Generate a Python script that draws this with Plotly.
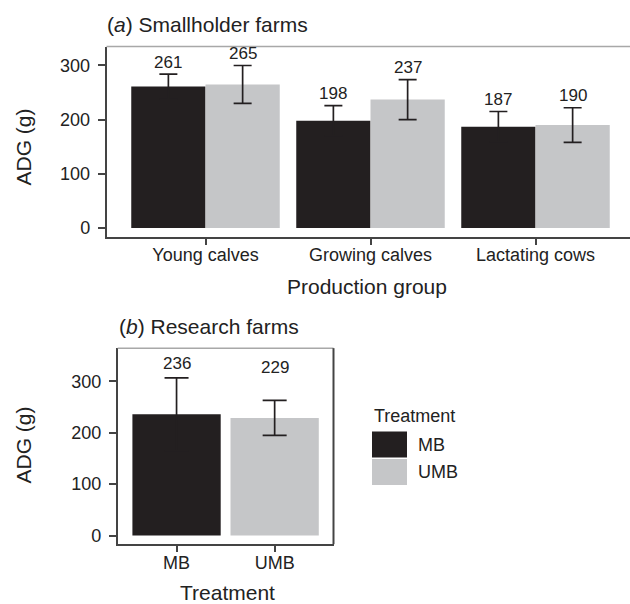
import plotly.graph_objects as go

# ---- data -------------------------------------------------------------
groups = ["Young calves", "Growing calves", "Lactating cows"]
treatments = ["MB", "UMB"]
colors = {"MB": "#231f20", "UMB": "#c5c6c8"}

# panel (a): smallholder farms, mean ADG (g) and error half-width
adg_a = {"MB": [261, 198, 187], "UMB": [265, 237, 190]}
err_a = {"MB": [23, 28, 28], "UMB": [35, 37, 32]}

# panel (b): research farms
adg_b = [236, 229]
err_b = [71, 34]

W, H = 630, 604
FONT = "Liberation Sans, Arial, Helvetica, sans-serif"
INK = "#222222"
AXIS = "#444444"
BORDER = "#a8a8a8"


def px(x):
    return x / W


def py(y):
    return 1 - y / H


fig = go.Figure()

# ---- panel (a) bars ---------------------------------------------------
pos_a = list(range(1, len(groups) + 1))
for t in treatments:
    fig.add_trace(go.Bar(
        x=pos_a, y=adg_a[t], name=t,
        marker=dict(color=colors[t], line=dict(width=0)),
        error_y=dict(type="data", array=err_a[t], visible=True,
                     color="#231f20", thickness=1.7, width=9),
        xaxis="x", yaxis="y", showlegend=False, hoverinfo="skip",
    ))

# ---- panel (b) bars ---------------------------------------------------
pos_b = list(range(1, len(treatments) + 1))
fig.add_trace(go.Bar(
    x=pos_b, y=adg_b, width=0.9,
    marker=dict(color=[colors[t] for t in treatments], line=dict(width=0)),
    error_y=dict(type="data", array=err_b, visible=True,
                 color="#231f20", thickness=1.7, width=12),
    xaxis="x2", yaxis="y2", showlegend=False, hoverinfo="skip",
))

annotations = []

# value labels, panel (a): just above the upper whisker
half = 0.45 / 2
for k, t in enumerate(treatments):
    shift = -half if k == 0 else half
    for p, v, e in zip(pos_a, adg_a[t], err_a[t]):
        annotations.append(dict(
            x=p + shift, y=v + e, xref="x", yref="y", text=str(v),
            showarrow=False, yanchor="middle", yshift=12,
            font=dict(size=17, color=INK, family=FONT)))

# value labels, panel (b): a fixed height above each bar
label_pad_b = 98
for p, v in zip(pos_b, adg_b):
    annotations.append(dict(
        x=p, y=v + label_pad_b, xref="x2", yref="y2", text=str(v),
        showarrow=False, yanchor="middle",
        font=dict(size=17, color=INK, family=FONT)))

# panel titles
annotations.append(dict(x=px(105), y=py(25), xref="paper", yref="paper",
                        text="(<i>a</i>) Smallholder farms", showarrow=False,
                        xanchor="left", yanchor="middle",
                        font=dict(size=21, color=INK, family=FONT)))
annotations.append(dict(x=px(116.5), y=py(328), xref="paper", yref="paper",
                        text="(<i>b</i>) Research farms", showarrow=False,
                        xanchor="left", yanchor="middle",
                        font=dict(size=21, color=INK, family=FONT)))

# axis titles
for txt, x, y, ang in [("ADG (g)", 24, 148, -90),
                       ("Production group", 367, 287, 0),
                       ("ADG (g)", 24, 447, -90),
                       ("Treatment", 227, 594, 0)]:
    annotations.append(dict(x=px(x), y=py(y), xref="paper", yref="paper",
                            text=txt, showarrow=False, textangle=ang,
                            xanchor="center", yanchor="middle",
                            font=dict(size=21, color=INK, family=FONT)))

# legend (drawn by hand: wide key boxes)
annotations.append(dict(x=px(372), y=py(417), xref="paper", yref="paper",
                        text="Treatment", showarrow=False,
                        xanchor="left", yanchor="middle",
                        font=dict(size=18, color=INK, family=FONT)))
shapes = []
key_top = 433
for i, t in enumerate(treatments):
    y0 = key_top + i * 27.5
    shapes.append(dict(type="rect", xref="paper", yref="paper",
                       x0=px(372), x1=px(407), y0=py(y0), y1=py(y0 + 26),
                       fillcolor=colors[t], line=dict(width=0)))
    annotations.append(dict(x=px(416), y=py(y0 + 13.5), xref="paper",
                            yref="paper", text=t, showarrow=False,
                            xanchor="left", yanchor="middle",
                            font=dict(size=18, color=INK, family=FONT)))

# panel frames: light top edge, dark right edge on panel (b)
shapes.append(dict(type="line", xref="x domain", yref="y domain",
                   x0=0, x1=1, y0=1, y1=1,
                   line=dict(color=BORDER, width=1.5)))
shapes.append(dict(type="line", xref="x2 domain", yref="y2 domain",
                   x0=0, x1=1, y0=1, y1=1,
                   line=dict(color=BORDER, width=1.5)))
shapes.append(dict(type="line", xref="x2 domain", yref="y2 domain",
                   x0=1, x1=1, y0=0, y1=1,
                   line=dict(color=AXIS, width=2)))

tickfont = dict(size=18, color=INK, family=FONT)
common_x = dict(showgrid=False, zeroline=False, showline=True,
                linecolor=AXIS, linewidth=1.5, ticks="outside", ticklen=6,
                tickwidth=1.5, tickcolor=AXIS, tickfont=tickfont,
                ticklabelstandoff=-5)
common_y = dict(showgrid=False, zeroline=False, showline=True,
                linecolor=AXIS, linewidth=1.5, ticks="outside", ticklen=7,
                tickwidth=1.5, tickcolor=AXIS, tickfont=tickfont,
                tickvals=[0, 100, 200, 300], ticklabelstandoff=4)

# panel (a) spans to the right edge, unit width 165 px
a_left, a_right = 106.5, 630
b_left, b_right = 117.7, 333.5

fig.update_layout(
    width=W, height=H,
    margin=dict(l=0, r=0, t=0, b=0),
    paper_bgcolor="white", plot_bgcolor="white",
    barmode="group", bargap=0.1,
    font=dict(family=FONT, color=INK),
    xaxis=dict(domain=[px(a_left), px(a_right)], anchor="y",
               range=[0.4, 0.4 + (a_right - a_left) / 165],
               tickvals=pos_a, ticktext=groups, **common_x),
    yaxis=dict(domain=[py(237.7), py(46.7)], anchor="x",
               range=[-16.6, 335], **common_y),
    xaxis2=dict(domain=[px(b_left), px(b_right)], anchor="y2",
                range=[0.4, 2.6], tickvals=pos_b, ticktext=treatments,
                **common_x),
    yaxis2=dict(domain=[py(546), py(349.3)], anchor="x2",
                range=[-16.9, 364.8], **common_y),
    annotations=annotations,
    shapes=shapes,
    showlegend=False,
)

fig.write_html("out.html")
